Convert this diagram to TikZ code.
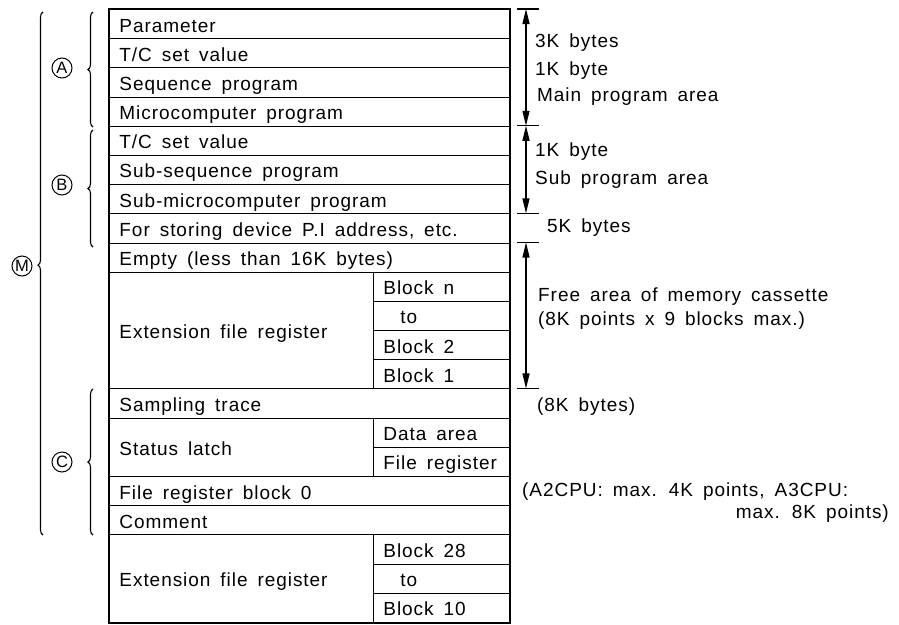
\documentclass[tikz,border=0pt]{standalone}
\usepackage{fontspec}
\setmainfont{Liberation Sans}[LetterSpace=5, WordSpace=1.6]
\usetikzlibrary{arrows.meta, decorations.pathreplacing}
\newcommand\cf{\fontsize{19}{22}\selectfont}
\newcommand\lf{\fontsize{16.5}{18}\selectfont}
\newcommand\Wf[1]{\makebox[380pt][l]{#1}}
\newcommand\Wl[1]{\makebox[244pt][l]{#1}}
\newcommand\Wr[1]{\makebox[116pt][l]{#1}}
\begin{document}
\begin{tikzpicture}[x=1pt,y=-1pt,
  cell/.style={draw, line width=0.9pt, anchor=north west, inner xsep=10pt, inner ysep=0pt,
    minimum height=29.19pt, text height=16pt, text depth=0pt, font=\cf},
  lbl/.style={anchor=west, inner sep=0pt, font=\cf},
  circ/.style={draw, circle, line width=1pt, minimum size=20pt, inner sep=0pt, font=\lf},
  brc/.style={decorate, line width=1.1pt, decoration={brace, amplitude=5pt}},
  dim/.style={line width=1.3pt, {Triangle[length=15pt,width=7pt]}-{Triangle[length=15pt,width=7pt]}},
  tick/.style={line width=1.2pt}]
\useasboundingbox (0,0) rectangle (899,624);
\def\R{29.19}
% main column cells
\node[cell] (r0) at (109,{9+0*\R}) {\Wf{Parameter}};
\node[cell] (r1) at (109,{9+1*\R}) {\Wf{T/C set value}};
\node[cell] (r2) at (109,{9+2*\R}) {\Wf{Sequence program}};
\node[cell] (r3) at (109,{9+3*\R}) {\Wf{Microcomputer program}};
\node[cell] (r4) at (109,{9+4*\R}) {\Wf{T/C set value}};
\node[cell] (r5) at (109,{9+5*\R}) {\Wf{Sub-sequence program}};
\node[cell] (r6) at (109,{9+6*\R}) {\Wf{Sub-microcomputer program}};
\node[cell] (r7) at (109,{9+7*\R}) {\Wf{For storing device P.I address, etc.}};
\node[cell] (r8) at (109,{9+8*\R}) {\Wf{Empty (less than 16K bytes)}};
\node[cell, minimum height=116.76pt] (ext1) at (109,{9+9*\R}) {\Wl{Extension file register}};
\node[cell] (bn) at (373,{9+9*\R}) {\Wr{Block n}};
\node[cell] (bto) at (373,{9+10*\R}) {\Wr{\hspace*{17pt}to}};
\node[cell] (b2) at (373,{9+11*\R}) {\Wr{Block 2}};
\node[cell] (b1) at (373,{9+12*\R}) {\Wr{Block 1}};
\node[cell] (r13) at (109,{9+13*\R}) {\Wf{Sampling trace}};
\node[cell, minimum height=58.38pt] (sl) at (109,{9+14*\R}) {\Wl{Status latch}};
\node[cell] (da) at (373,{9+14*\R}) {\Wr{Data area}};
\node[cell] (fr) at (373,{9+15*\R}) {\Wr{File register}};
\node[cell] (r16) at (109,{9+16*\R}) {\Wf{File register block 0}};
\node[cell] (r17) at (109,{9+17*\R}) {\Wf{Comment}};
\node[cell, minimum height=87.57pt] (ext2) at (109,{9+18*\R}) {\Wl{Extension file register}};
\node[cell] (b28) at (373,{9+18*\R}) {\Wr{Block 28}};
\node[cell] (bto2) at (373,{9+19*\R}) {\Wr{\hspace*{17pt}to}};
\node[cell] (b10) at (373,{9+20*\R}) {\Wr{Block 10}};
% thick outer border
\draw[line width=2.4pt] (r0.north west) rectangle (b10.south east);
% dimension ticks and arrows
\coordinate (a0) at (526,9);
\coordinate (a1) at (526,{9+4*\R});
\coordinate (a2) at (526,{9+7*\R});
\coordinate (a3) at (526,{9+8*\R});
\coordinate (a4) at (526,{9+13*\R});
\foreach \c in {a0,a1,a2,a3,a4} \draw[tick] ([xshift=-9pt]\c) -- ([xshift=13pt]\c);
\draw[dim] (a0) -- (a1);
\draw[dim] (a1) -- (a2);
\draw[dim] (a3) -- (a4);
% right labels
\node[lbl] (t1) at (535,43) {3K bytes};
\node[lbl] (t2) at (535,71) {1K byte};
\node[lbl] (t3) at (537,97) {Main program area};
\node[lbl] (t4) at (535,152) {1K byte};
\node[lbl] (t5) at (535,180) {Sub program area};
\node[lbl] (t6) at (547,228) {5K bytes};
\node[lbl] (t7) at (538,297) {Free area of memory cassette};
\node[lbl] (t8) at (538,321) {(8K points x 9 blocks max.)};
\node[lbl] (t9) at (537,407) {(8K bytes)};
\node[lbl] (t10) at (522,492) {(A2CPU: max. 4K points, A3CPU:};
\node[lbl, anchor=east] (t11) at (889,514) {max. 8K points)};
% braces
\draw[brc] (93,127) -- (93,12);
\draw[brc] (93,247) -- (93,130);
\draw[brc] (93,535) -- (93,389);
\draw[brc, decoration={aspect=0.516}] (43,535) -- (43,12);
% circled letters
\node[circ] (cA) at (62,68) {A};
\node[circ] (cB) at (62,185) {B};
\node[circ] (cC) at (62,462) {C};
\node[circ] (cM) at (22,266) {M};
\end{tikzpicture}
\end{document}
